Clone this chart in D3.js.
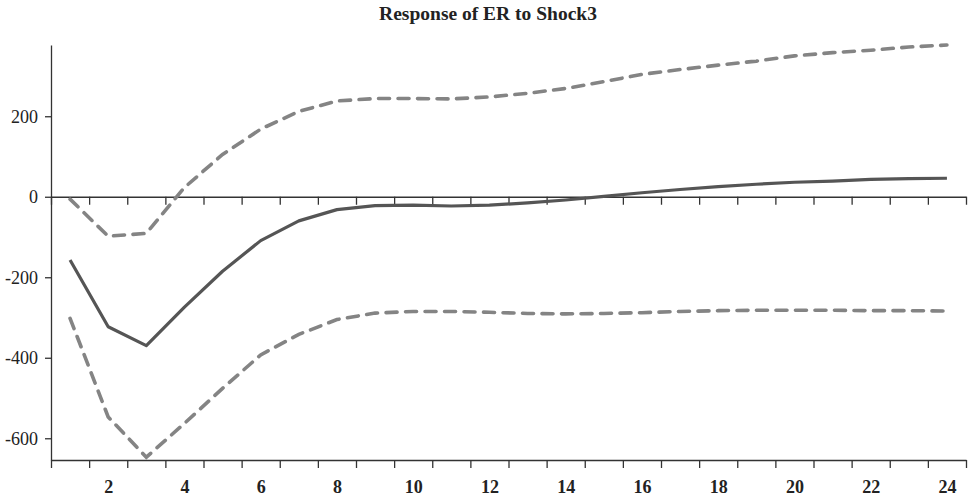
<!DOCTYPE html>
<html>
<head>
<meta charset="utf-8">
<script src="https://cdn.jsdelivr.net/npm/d3@7"></script>
<style>
  html, body { margin: 0; padding: 0; background: #fff; }
  svg { display: block; }
  .axis text { font-family: "Liberation Serif", "DejaVu Serif", serif; fill: #222; }
</style>
</head>
<body>
<svg id="chart" width="968" height="498"></svg>
<script>
// Impulse response of ER to Shock3, with upper and lower confidence bands
const periods = d3.range(1, 25);
const response = [-157, -323, -370, -274, -185, -109, -60, -32, -22, -21, -23, -21,
                  -15, -8, 1, 10, 18, 25, 31, 36, 39, 43, 45, 46];
const upperBand = [-6, -98, -91, 23, 105, 168, 212, 238, 244, 244, 243, 248,
                   257, 269, 286, 304, 316, 327, 337, 350, 358, 364, 372, 377];
const lowerBand = [-302, -547, -647, -563, -476, -393, -342, -305, -289, -285, -285, -287,
                   -290, -291, -290, -288, -285, -283, -282, -282, -282, -283, -283, -284];
const yTicks = [-600, -400, -200, 0, 200];
const xLabels = [2, 4, 6, 8, 10, 12, 14, 16, 18, 20, 22, 24];
const title = "Response of ER to Shock3";

const svg = d3.select("#chart");
const plotLeft = 51, plotRight = 966, plotTop = 45, plotBottom = 460;

const x = d3.scaleLinear().domain([0.5, 24.5]).range([plotLeft, plotRight]);
const y = d3.scaleLinear().domain([-654, 377]).range([plotBottom, plotTop]);
const boundaries = d3.range(0.5, 25, 1);
const axisColor = "#333";

// title
svg.append("text")
  .attr("x", 488).attr("y", 20)
  .attr("text-anchor", "middle")
  .style("font-family", "'Liberation Serif', serif")
  .style("font-weight", "bold")
  .style("font-size", "19.5px")
  .style("fill", "#222")
  .text(title);

// left axis (plain hyphen for negatives)
const yAxis = svg.append("g").attr("class", "axis")
  .attr("transform", `translate(${plotLeft},0)`)
  .call(d3.axisLeft(y).tickValues(yTicks).tickSize(6).tickSizeOuter(0).tickPadding(7)
        .tickFormat(d => String(d)));
yAxis.selectAll("text").style("font-size", "18px");

// zero line with period ticks
svg.append("g").attr("class", "axis")
  .attr("transform", `translate(0,${y(0)})`)
  .call(d3.axisBottom(x).tickValues(boundaries).tickSize(8).tickSizeOuter(0).tickFormat(""));

// bottom axis with period ticks
svg.append("g").attr("class", "axis")
  .attr("transform", `translate(0,${plotBottom})`)
  .call(d3.axisBottom(x).tickValues(boundaries).tickSize(8).tickSizeOuter(0).tickFormat(""));

// period labels under band centres
const xLabelAxis = svg.append("g").attr("class", "axis")
  .attr("transform", `translate(0,${plotBottom})`)
  .call(d3.axisBottom(x).tickValues(xLabels).tickSize(0).tickPadding(20).tickFormat(d => String(d)));
xLabelAxis.select(".domain").remove();
xLabelAxis.selectAll("text").style("font-size", "18px").style("font-weight", "bold");

svg.selectAll(".axis .domain, .axis line")
  .attr("stroke", axisColor).attr("stroke-width", 1.3);

// lines
const line = d3.line().x((d, i) => x(periods[i])).y(d => y(d));

svg.append("path").datum(upperBand)
  .attr("d", line).attr("fill", "none")
  .attr("stroke", "#848484").attr("stroke-width", 3.6)
  .attr("stroke-linecap", "round").attr("stroke-dasharray", "11,8.5");

svg.append("path").datum(lowerBand)
  .attr("d", line).attr("fill", "none")
  .attr("stroke", "#848484").attr("stroke-width", 3.6)
  .attr("stroke-linecap", "round").attr("stroke-dasharray", "11,8.5");

svg.append("path").datum(response)
  .attr("d", line).attr("fill", "none")
  .attr("stroke", "#555").attr("stroke-width", 3.2)
  .attr("stroke-linejoin", "round");
</script>
</body>
</html>
